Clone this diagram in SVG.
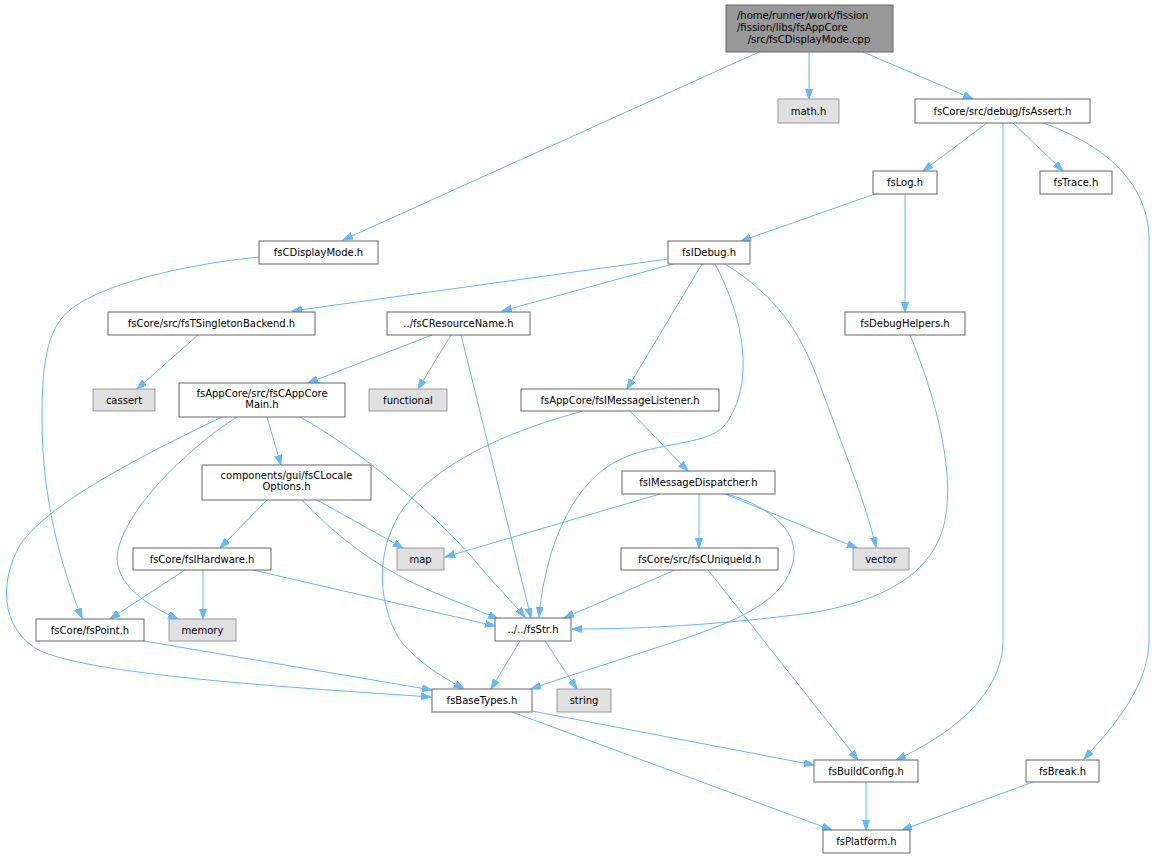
<svg xmlns="http://www.w3.org/2000/svg" width="1155" height="859" viewBox="0 0 1155 859">
<defs>
<marker id="ah" markerUnits="userSpaceOnUse" markerWidth="11" markerHeight="8" refX="10" refY="3.5" orient="auto">
<path d="M0,0 L10,3.5 L0,7 z" fill="#63b8ff" stroke="#63b8ff" stroke-width="1"/>
</marker>
<style>
.n rect{fill:#ffffff;stroke:#666666;stroke-width:1}
.x rect{fill:#e0e0e0;stroke:#999999;stroke-width:1}
.r rect{fill:#999999;stroke:#666666;stroke-width:1}
text{font-family:"DejaVu Sans","Liberation Sans",sans-serif;font-size:10px;fill:#000000;text-anchor:middle}
.e path{fill:none;stroke:#63b8ff;stroke-width:1;marker-end:url(#ah)}
</style>
</defs>
<rect width="1155" height="859" fill="#ffffff"/>
<g id="edges" class="e">
<path d="M759,52 L343,240"/>
<path d="M809,52 L809,99"/>
<path d="M863,52 L973,99"/>
<path d="M987,123 L923,171"/>
<path d="M1013,123 L1063,171"/>
<path d="M1003,123 L1003,640 C1003,695 950,735 896,760"/>
<path d="M1043,123 C1100,143 1149,180 1149,240 L1149,640 C1149,685 1115,725 1084,759"/>
<path d="M875,194 L741,241"/>
<path d="M905,194 L905,312"/>
<path d="M259,257 C180,265 100,285 70,310 C45,330 42,370 42,420 C42,500 62,570 82,618"/>
<path d="M668,259 L292,311"/>
<path d="M673,264 L502,311"/>
<path d="M702,264 L627,389"/>
<path d="M715,264 C745,320 755,385 725,425 C705,448 650,440 610,465 C570,490 545,550 539,617"/>
<path d="M725,264 C775,295 800,330 820,385 C840,440 865,500 876,547"/>
<path d="M910,335 C935,395 955,470 945,520 C935,570 890,600 810,613 C720,625 640,629 572,629"/>
<path d="M432,335 L308,383"/>
<path d="M451,335 L418,389"/>
<path d="M461,335 L531,618"/>
<path d="M198,335 L137,389"/>
<path d="M267,417 L281,465"/>
<path d="M237,417 C200,440 130,500 118,550 C112,580 140,602 178,619"/>
<path d="M222,417 C160,447 50,500 20,545 C0,580 0,625 35,648 C80,675 300,688 431,697"/>
<path d="M300,417 C360,450 430,510 470,555 C495,585 515,605 525,617"/>
<path d="M267,500 L220,548"/>
<path d="M317,500 L403,548"/>
<path d="M302,500 C340,540 380,570 440,595 C465,605 485,613 498,619"/>
<path d="M185,570 L110,619"/>
<path d="M203,570 L203,619"/>
<path d="M253,570 L495,626"/>
<path d="M144,641 L432,690"/>
<path d="M583,411 C520,428 450,455 410,500 C375,540 375,600 400,640 C420,665 445,678 464,689"/>
<path d="M630,411 L688,471"/>
<path d="M660,494 L445,557"/>
<path d="M699,494 L699,548"/>
<path d="M725,494 L857,548"/>
<path d="M727,494 C775,508 800,535 793,562 C785,600 740,620 680,640 C620,660 570,675 531,689"/>
<path d="M675,570 L564,618"/>
<path d="M708,570 L858,760"/>
<path d="M520,641 L491,689"/>
<path d="M545,641 L577,689"/>
<path d="M532,711 L814,765"/>
<path d="M512,712 L832,830"/>
<path d="M866,782 L866,830"/>
<path d="M1033,782 L902,830"/>
</g>
<g id="root" class="r"><rect x="726" y="5" width="167" height="47"/>
<text x="737" y="19" style="text-anchor:start">/home/runner/work/fission</text>
<text x="737" y="31" style="text-anchor:start">/fission/libs/fsAppCore</text>
<text x="809" y="43">/src/fsCDisplayMode.cpp</text></g>
<g id="math_h" class="x"><rect x="778" y="99" width="61" height="24"/><text x="808.5" y="115">math.h</text></g>
<g id="fsAssert_h" class="n"><rect x="915" y="99" width="175" height="24"/><text x="1002.5" y="115">fsCore/src/debug/fsAssert.h</text></g>
<g id="fsLog_h" class="n"><rect x="873" y="171" width="64" height="23"/><text x="905" y="186">fsLog.h</text></g>
<g id="fsTrace_h" class="n"><rect x="1040" y="171" width="72" height="23"/><text x="1076" y="186">fsTrace.h</text></g>
<g id="fsCDisplayMode_h" class="n"><rect x="259" y="241" width="119" height="23"/><text x="318.5" y="256">fsCDisplayMode.h</text></g>
<g id="fsIDebug_h" class="n"><rect x="668" y="241" width="82" height="23"/><text x="709" y="256">fsIDebug.h</text></g>
<g id="fsTSingletonBackend_h" class="n"><rect x="108" y="312" width="207" height="23"/><text x="211.5" y="327">fsCore/src/fsTSingletonBackend.h</text></g>
<g id="fsCResourceName_h" class="n"><rect x="387" y="312" width="143" height="23"/><text x="458.5" y="327">../fsCResourceName.h</text></g>
<g id="fsDebugHelpers_h" class="n"><rect x="845" y="312" width="120" height="23"/><text x="905" y="327">fsDebugHelpers.h</text></g>
<g id="cassert" class="x"><rect x="93" y="389" width="62" height="22"/><text x="124" y="404">cassert</text></g>
<g id="fsCAppCoreMain_h" class="n"><rect x="179" y="383" width="166" height="34"/><text x="262" y="397">fsAppCore/src/fsCAppCore</text><text x="262" y="408">Main.h</text></g>
<g id="functional" class="x"><rect x="369" y="389" width="78" height="22"/><text x="408" y="404">functional</text></g>
<g id="fsIMessageListener_h" class="n"><rect x="521" y="389" width="198" height="22"/><text x="620" y="404">fsAppCore/fsIMessageListener.h</text></g>
<g id="fsCLocaleOptions_h" class="n"><rect x="202" y="465" width="169" height="35"/><text x="286.5" y="479">components/gui/fsCLocale</text><text x="286.5" y="490">Options.h</text></g>
<g id="fsIMessageDispatcher_h" class="n"><rect x="622" y="471" width="153" height="23"/><text x="698.5" y="486">fsIMessageDispatcher.h</text></g>
<g id="fsIHardware_h" class="n"><rect x="133" y="548" width="138" height="22"/><text x="202" y="563">fsCore/fsIHardware.h</text></g>
<g id="map" class="x"><rect x="397" y="548" width="47" height="22"/><text x="420.5" y="563">map</text></g>
<g id="fsCUniqueId_h" class="n"><rect x="621" y="548" width="157" height="22"/><text x="699.5" y="563">fsCore/src/fsCUniqueId.h</text></g>
<g id="vector" class="x"><rect x="853" y="548" width="56" height="22"/><text x="881" y="563">vector</text></g>
<g id="fsPoint_h" class="n"><rect x="36" y="619" width="108" height="22"/><text x="90" y="634">fsCore/fsPoint.h</text></g>
<g id="memory" class="x"><rect x="169" y="619" width="67" height="22"/><text x="202.5" y="634">memory</text></g>
<g id="fsStr_h" class="n"><rect x="495" y="618" width="76" height="23"/><text x="533" y="633">../../fsStr.h</text></g>
<g id="fsBaseTypes_h" class="n"><rect x="432" y="689" width="100" height="23"/><text x="482" y="704">fsBaseTypes.h</text></g>
<g id="string" class="x"><rect x="557" y="689" width="54" height="23"/><text x="584" y="704">string</text></g>
<g id="fsBuildConfig_h" class="n"><rect x="814" y="760" width="104" height="22"/><text x="866" y="775">fsBuildConfig.h</text></g>
<g id="fsBreak_h" class="n"><rect x="1026" y="760" width="73" height="22"/><text x="1062.5" y="775">fsBreak.h</text></g>
<g id="fsPlatform_h" class="n"><rect x="823" y="830" width="87" height="23"/><text x="866.5" y="845">fsPlatform.h</text></g>
</svg>
